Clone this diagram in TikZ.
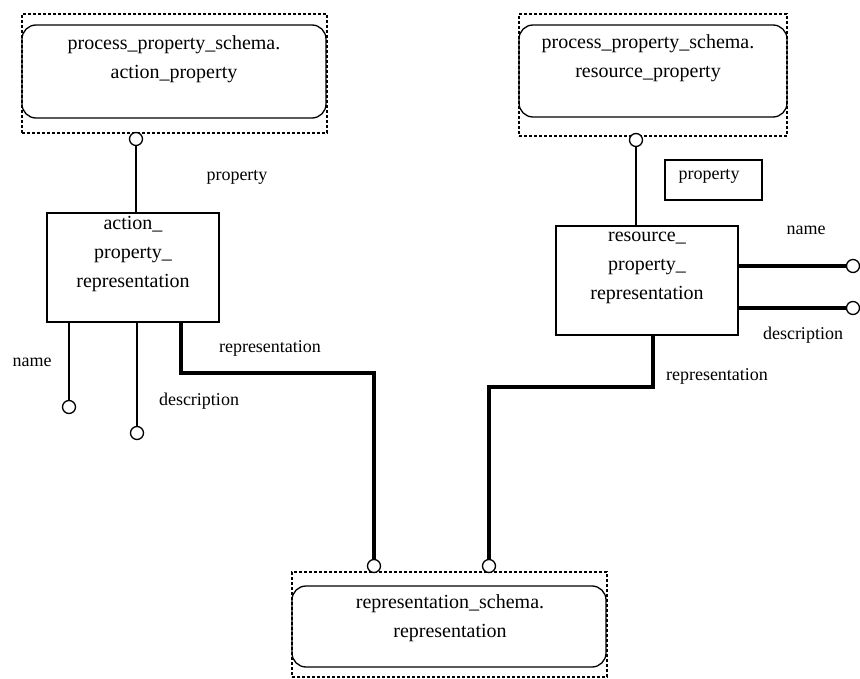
\documentclass[tikz,border=0pt]{standalone}
\usepackage{fontspec}
\setmainfont{Liberation Serif}
\begin{document}
\begin{tikzpicture}[x=1pt,y=-1pt,
  dbox/.style={draw, dash pattern=on 3pt off 2pt, line width=1.3pt, inner sep=0pt},
  rbox/.style={draw, rounded corners=14pt, line width=1.3pt, inner sep=0pt},
  sbox/.style={draw, line width=1.2pt, inner sep=0pt},
  circ/.style={draw, circle, line width=1.3pt, minimum size=13pt, inner sep=0pt, fill=white},
  ln/.style={line width=2pt},
  thk/.style={line width=3.4pt},
  txt/.style={font=\fontsize{20}{29}\selectfont, align=center, inner sep=0pt},
  lbl/.style={font=\fontsize{18}{20}\selectfont, inner sep=0pt}
]
\useasboundingbox (0,0) rectangle (860,679);

% top-left entity
\node[dbox, minimum width=305pt, minimum height=119pt] (tld) at (174.5,73.5) {};
\node[rbox, minimum width=304pt, minimum height=93pt] (tlr) at (174,71.5) {};
\node[txt] (tlt) at (174,59) {process\_property\_schema.\\action\_property};

% top-right entity
\node[dbox, minimum width=268pt, minimum height=122pt] (trd) at (653,75) {};
\node[rbox, minimum width=268pt, minimum height=92pt] (trr) at (653,71) {};
\node[txt] (trt) at (648,58) {process\_property\_schema.\\resource\_property};

% bottom entity
\node[dbox, minimum width=315pt, minimum height=105pt] (bd) at (449.5,624.5) {};
\node[rbox, minimum width=314pt, minimum height=81pt] (br) at (449,626.5) {};
\node[txt] (bt) at (450,618) {representation\_schema.\\representation};

% action_property_representation
\node[sbox, minimum width=172pt, minimum height=109pt] (ap) at (133,267.5) {};
\node[txt] (apt) at (133,254) {action\_\\property\_\\representation};

% resource_property_representation
\node[sbox, minimum width=182pt, minimum height=109pt] (rp) at (647,280.5) {};
\node[txt] (rpt) at (647,268) {resource\_\\property\_\\representation};

% property box
\node[sbox, minimum width=97pt, minimum height=40pt] (pb) at (713.5,180) {};
\node[lbl] (pbt) at (709,176) {property};

% circles
\node[circ] (c1) at (136,139) {};
\node[circ] (c2) at (636,140) {};
\node[circ] (cn1) at (69,407) {};
\node[circ] (cd1) at (137,433) {};
\node[circ] (cr1) at (374,566) {};
\node[circ] (cr2) at (489,566) {};
\node[circ] (cn2) at (853,266) {};
\node[circ] (cd2) at (853,308) {};

\coordinate (b1) at (181,373);
\coordinate (b2) at (653,387);

% connectors
\draw[ln] (c1.south) -- (c1.south |- ap.north);
\draw[ln] (c2.south) -- (c2.south |- rp.north);
\draw[ln] (cn1.north) -- (cn1.north |- ap.south);
\draw[ln] (cd1.north) -- (cd1.north |- ap.south);
\draw[thk] (b1 |- ap.south) -- (b1) -| (cr1.north);
\draw[thk] (b2 |- rp.south) -- (b2) -| (cr2.north);
\draw[thk] (cn2.west) -- (cn2.west -| rp.east);
\draw[thk] (cd2.west) -- (cd2.west -| rp.east);

% labels
\node[lbl] (l1) at (237,177) {property};
\node[lbl] (l2) at (32,362) {name};
\node[lbl] (l3) at (199,401) {description};
\node[lbl] (l4) at (270,348) {representation};
\node[lbl] (l5) at (806,230) {name};
\node[lbl] (l6) at (803,335) {description};
\node[lbl] (l7) at (717,376) {representation};
\end{tikzpicture}
\end{document}
